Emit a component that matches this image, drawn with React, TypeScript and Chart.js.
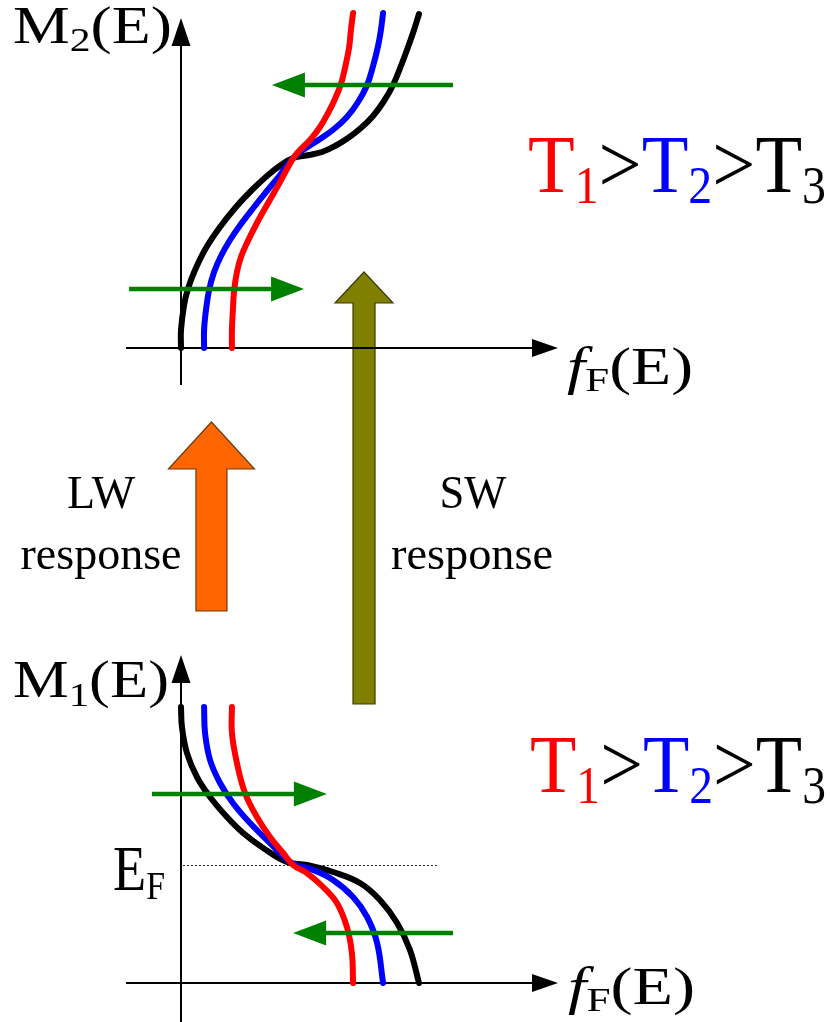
import { useEffect, useRef } from "react";
import { Chart, registerables } from "chart.js";

Chart.register(...registerables);

type Pt = [number, number]; // [f_F, E]

// Upper panel, M2(E): occupation vs energy for the three temperatures
const topT1: Pt[] = [
  [0.214, 0.0], [0.214, 0.18], [0.218, 0.38], [0.223, 0.57], [0.235, 0.76],
  [0.252, 0.91], [0.277, 1.05], [0.319, 1.25], [0.366, 1.45], [0.416, 1.66],
  [0.45, 1.81], [0.475, 1.91], [0.504, 1.99], [0.542, 2.08], [0.584, 2.21],
  [0.618, 2.35], [0.647, 2.49], [0.672, 2.64], [0.689, 2.8], [0.706, 3.0],
  [0.714, 3.18], [0.723, 3.35],
];
const topT2: Pt[] = [
  [0.097, 0.0], [0.097, 0.18], [0.105, 0.38], [0.118, 0.58], [0.139, 0.76],
  [0.168, 0.92], [0.206, 1.08], [0.252, 1.24], [0.307, 1.41], [0.361, 1.57],
  [0.416, 1.73], [0.471, 1.9], [0.525, 2.0], [0.584, 2.09], [0.643, 2.19],
  [0.697, 2.31], [0.744, 2.46], [0.782, 2.63], [0.807, 2.82], [0.828, 3.02],
  [0.84, 3.18], [0.849, 3.35],
];
const topT3: Pt[] = [
  [0.0, 0.0], [0.0, 0.18], [0.013, 0.43], [0.029, 0.59], [0.059, 0.78],
  [0.105, 1.0], [0.164, 1.21], [0.231, 1.41], [0.298, 1.58], [0.366, 1.73],
  [0.42, 1.83], [0.471, 1.9], [0.538, 1.93], [0.592, 1.96], [0.647, 2.02],
  [0.702, 2.1], [0.756, 2.2], [0.807, 2.32], [0.853, 2.47], [0.891, 2.63],
  [0.924, 2.82], [0.954, 3.01], [0.979, 3.18], [1.0, 3.34],
];

// Lower panel, M1(E)
const botT1: Pt[] = [
  [0.214, 2.76], [0.214, 2.5], [0.235, 2.2], [0.269, 1.9], [0.319, 1.66],
  [0.374, 1.46], [0.429, 1.3], [0.471, 1.18], [0.529, 1.1], [0.597, 0.96],
  [0.655, 0.8], [0.697, 0.56], [0.718, 0.3], [0.723, 0.0],
];
const botT2: Pt[] = [
  [0.097, 2.76], [0.101, 2.5], [0.122, 2.23], [0.164, 2.0], [0.218, 1.8],
  [0.29, 1.6], [0.374, 1.4], [0.466, 1.2], [0.555, 1.13], [0.639, 1.03],
  [0.723, 0.86], [0.782, 0.66], [0.824, 0.4], [0.849, 0.0],
];
const botT3: Pt[] = [
  [0.0, 2.76], [0.004, 2.56], [0.025, 2.3], [0.067, 2.06], [0.122, 1.86],
  [0.193, 1.66], [0.261, 1.5], [0.345, 1.35], [0.445, 1.21], [0.529, 1.18],
  [0.639, 1.11], [0.752, 1.0], [0.836, 0.83], [0.908, 0.6], [0.962, 0.33],
  [1.0, 0.0],
];

// Fermi level in the lower panel
const fermiLevel = 1.18;
const fermiSpan: [number, number] = [0.008, 1.08];

// Green shift arrows: [energy, from f_F, to f_F]
const topShifts: [number, number, number][] = [
  [2.63, 1.143, 0.382],
  [0.59, -0.218, 0.517],
];
const botShifts: [number, number, number][] = [
  [1.89, -0.122, 0.613],
  [0.5, 1.143, 0.471],
];

// Axis extents: [f_F start, f_F tip] and [E start, E tip]
const axisF: [number, number] = [-0.231, 1.584];
const topAxisE: [number, number] = [-0.37, 3.3];
const botAxisE: [number, number] = [-0.39, 3.28];

// Response arrows between the panels (upper-panel units): [f_F centre, tail E, tip E]
const lwArrow: [number, number, number] = [0.128, -2.63, -0.74];
const swArrow: [number, number, number] = [0.769, -3.56, 0.76];

const RED = "#ff0000";
const BLUE = "#0000ff";
const BLACK = "#000000";
const GREEN = "#008000";
const SERIF = "'Liberation Serif', 'Times New Roman', serif";

type Part = { t: string; size: number; dy?: number; color?: string; italic?: boolean };

function richText(
  ctx: CanvasRenderingContext2D,
  parts: Part[],
  x: number,
  baseline: number,
  width: number,
  align: "left" | "center" = "left"
) {
  ctx.save();
  ctx.textBaseline = "alphabetic";
  ctx.textAlign = "left";
  const widths = parts.map((p) => {
    ctx.font = `${p.italic ? "italic " : ""}${p.size}px ${SERIF}`;
    return ctx.measureText(p.t).width;
  });
  const total = widths.reduce((a, b) => a + b, 0);
  const sx = width / total;
  const left = align === "center" ? x - width / 2 : x;
  ctx.translate(left, baseline);
  ctx.scale(sx, 1);
  let cx = 0;
  parts.forEach((p, i) => {
    ctx.font = `${p.italic ? "italic " : ""}${p.size}px ${SERIF}`;
    ctx.fillStyle = p.color || BLACK;
    ctx.fillText(p.t, cx, p.dy || 0);
    cx += widths[i];
  });
  ctx.restore();
}

function lineArrow(
  ctx: CanvasRenderingContext2D,
  x1: number, y1: number, x2: number, y2: number,
  color: string, lw: number, headLen: number, headHalf: number
) {
  const ang = Math.atan2(y2 - y1, x2 - x1);
  const bx = x2 - Math.cos(ang) * headLen;
  const by = y2 - Math.sin(ang) * headLen;
  ctx.save();
  ctx.strokeStyle = color;
  ctx.fillStyle = color;
  ctx.lineWidth = lw;
  ctx.lineCap = "butt";
  ctx.beginPath();
  ctx.moveTo(x1, y1);
  ctx.lineTo(bx + Math.cos(ang) * 2, by + Math.sin(ang) * 2);
  ctx.stroke();
  const nx = -Math.sin(ang), ny = Math.cos(ang);
  ctx.beginPath();
  ctx.moveTo(x2, y2);
  ctx.lineTo(bx + nx * headHalf, by + ny * headHalf);
  ctx.lineTo(bx - nx * headHalf, by - ny * headHalf);
  ctx.closePath();
  ctx.fill();
  ctx.restore();
}

function blockArrow(
  ctx: CanvasRenderingContext2D,
  cx: number, tailY: number, tipY: number,
  headLen: number, headHalf: number, shaftHalf: number,
  fill: string, stroke: string
) {
  const hb = tipY + headLen;
  ctx.save();
  ctx.beginPath();
  ctx.moveTo(cx, tipY);
  ctx.lineTo(cx + headHalf, hb);
  ctx.lineTo(cx + shaftHalf, hb);
  ctx.lineTo(cx + shaftHalf, tailY);
  ctx.lineTo(cx - shaftHalf, tailY);
  ctx.lineTo(cx - shaftHalf, hb);
  ctx.lineTo(cx - headHalf, hb);
  ctx.closePath();
  ctx.fillStyle = fill;
  ctx.fill();
  ctx.strokeStyle = stroke;
  ctx.lineWidth = 1.2;
  ctx.lineJoin = "miter";
  ctx.stroke();
  ctx.restore();
}

const schematic = {
  id: "schematic",
  beforeDatasetsDraw(chart: any) {
    const ctx: CanvasRenderingContext2D = chart.ctx;
    const sx = chart.scales.x;
    const sT = chart.scales.yTop;
    const sB = chart.scales.yBot;
    const X = (v: number) => sx.getPixelForValue(v);

    // response arrows
    blockArrow(ctx, X(lwArrow[0]), sT.getPixelForValue(lwArrow[1]), sT.getPixelForValue(lwArrow[2]),
      47, 43, 15.5, "#ff6600", "#6b3a10");
    blockArrow(ctx, X(swArrow[0]), sT.getPixelForValue(swArrow[1]), sT.getPixelForValue(swArrow[2]),
      31, 29, 11, "#808000", "#3a3a00");

    // axes
    const x0 = X(0);
    [
      [sT, topAxisE],
      [sB, botAxisE],
    ].forEach(([s, ext]: any) => {
      const y0 = s.getPixelForValue(0);
      lineArrow(ctx, X(axisF[0]), y0, X(axisF[1]), y0, BLACK, 2, 26, 9);
      lineArrow(ctx, x0, s.getPixelForValue(ext[0]), x0, s.getPixelForValue(ext[1]), BLACK, 2, 28, 9.5);
    });

    // Fermi level
    const yF = sB.getPixelForValue(fermiLevel);
    ctx.save();
    ctx.strokeStyle = "#222";
    ctx.lineWidth = 1;
    ctx.setLineDash([2, 2]);
    ctx.beginPath();
    ctx.moveTo(X(fermiSpan[0]), yF + 0.5);
    ctx.lineTo(X(fermiSpan[1]), yF + 0.5);
    ctx.stroke();
    ctx.restore();
  },
  afterDatasetsDraw(chart: any) {
    const ctx: CanvasRenderingContext2D = chart.ctx;
    const sx = chart.scales.x;
    const X = (v: number) => sx.getPixelForValue(v);
    const sT = chart.scales.yTop;
    const sB = chart.scales.yBot;
    topShifts.forEach(([e, a, b]) => {
      const y = sT.getPixelForValue(e);
      lineArrow(ctx, X(a), y, X(b), y, GREEN, 4.5, 33, 12.5);
    });
    botShifts.forEach(([e, a, b]) => {
      const y = sB.getPixelForValue(e);
      lineArrow(ctx, X(a), y, X(b), y, GREEN, 4.5, 33, 12.5);
    });

    // labels
    richText(ctx, [
      { t: "M", size: 52 }, { t: "2", size: 34, dy: 8 }, { t: "(E)", size: 52 },
    ], 13, 43, 159);
    richText(ctx, [
      { t: "M", size: 52 }, { t: "1", size: 34, dy: 9 }, { t: "(E)", size: 52 },
    ], 13, 697, 156);
    richText(ctx, [
      { t: "f", size: 52, italic: true }, { t: "F", size: 34, dy: 7 }, { t: "(E)", size: 52 },
    ], 567, 384, 126);
    richText(ctx, [
      { t: "f", size: 52, italic: true }, { t: "F", size: 34, dy: 7 }, { t: "(E)", size: 52 },
    ], 568, 1004, 127);
    const temps = (): Part[] => [
      { t: "T", size: 83, color: RED }, { t: "1", size: 52, dy: 11, color: RED },
      { t: ">", size: 83 },
      { t: "T", size: 83, color: BLUE }, { t: "2", size: 52, dy: 11, color: BLUE },
      { t: ">", size: 83 },
      { t: "T", size: 83 }, { t: "3", size: 52, dy: 11 },
    ];
    richText(ctx, temps(), 528, 192, 298);
    richText(ctx, temps(), 530, 792, 296);
    richText(ctx, [{ t: "E", size: 64 }, { t: "F", size: 40, dy: 9 }], 113, 890, 52);
    richText(ctx, [{ t: "LW", size: 46 }], 101, 508, 68, "center");
    richText(ctx, [{ t: "response", size: 46 }], 101, 569, 161, "center");
    richText(ctx, [{ t: "SW", size: 46 }], 473, 508, 67, "center");
    richText(ctx, [{ t: "response", size: 46 }], 472, 569, 162, "center");
  },
};

const curve = (label: string, pts: Pt[], color: string, yAxisID: string) => ({
  label,
  data: pts.map(([f, e]) => ({ x: f, y: e })),
  borderColor: color,
  backgroundColor: color,
  borderWidth: 6,
  borderCapStyle: "round" as const,
  borderJoinStyle: "round" as const,
  pointRadius: 0,
  showLine: true,
  tension: 0.4,
  fill: false,
  clip: false as const,
  xAxisID: "x",
  yAxisID,
});

export default function App() {
  const ref = useRef<HTMLCanvasElement | null>(null);
  useEffect(() => {
    if (!ref.current) return;
    const chart = new Chart(ref.current, {
      type: "scatter",
      data: {
        datasets: [
          curve("T1", topT1, RED, "yTop"),
          curve("T2", topT2, BLUE, "yTop"),
          curve("T3", topT3, BLACK, "yTop"),
          curve("T1 ", botT1, RED, "yBot"),
          curve("T2 ", botT2, BLUE, "yBot"),
          curve("T3 ", botT3, BLACK, "yBot"),
        ],
      },
      options: {
        animation: false,
        responsive: false,
        devicePixelRatio: 1,
        events: [],
        layout: { padding: 0, autoPadding: false },
        plugins: { legend: { display: false }, tooltip: { enabled: false } },
        scales: {
          x: { type: "linear", display: false, min: -0.7605, max: 2.72689 },
          yTop: { type: "linear", axis: "y", position: "left", display: false, min: -6.74, max: 3.48 },
          yBot: { type: "linear", axis: "y", position: "left", display: false, min: -0.39, max: 9.83 },
        },
      } as any,
      plugins: [schematic],
    });
    return () => chart.destroy();
  }, []);
  return (
    <canvas
      ref={ref}
      width={830}
      height={1022}
      style={{ position: "absolute", left: 0, top: 0, width: 830, height: 1022, background: "#fff" }}
    />
  );
}
